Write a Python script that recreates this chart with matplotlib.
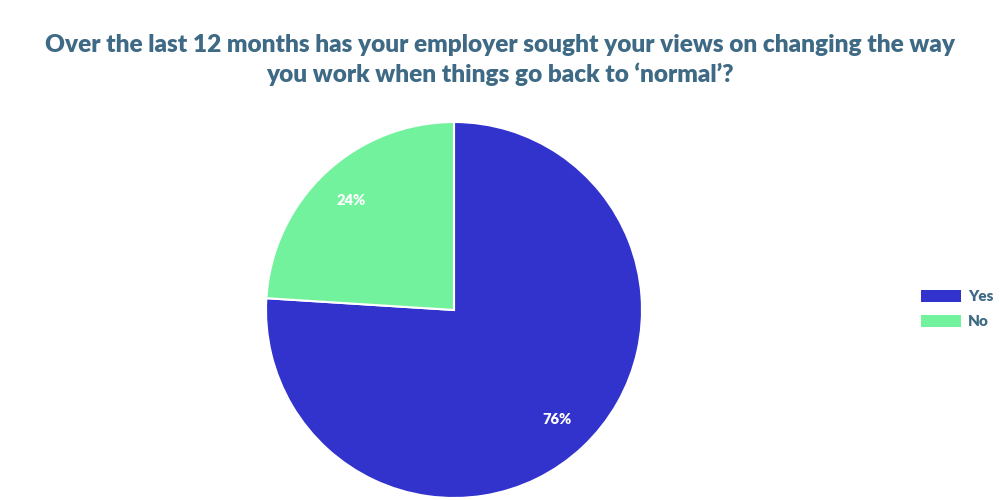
import matplotlib.pyplot as plt
from matplotlib.patches import Patch

labels = ["Yes", "No"]
shares = [76, 24]
colors = ["#3232cc", "#73f29e"]
title = "Over the last 12 months has your employer sought your views on changing the way\nyou work when things go back to \u2018normal\u2019?"

plt.rcParams['font.family'] = ['Lato', 'DejaVu Sans']

fig = plt.figure(figsize=(10, 5), dpi=100)
ax = fig.add_axes([0.266, 0.004, 0.376, 0.752])

wedges, _, autotexts = ax.pie(shares, colors=colors, startangle=90, counterclock=False,
                              autopct=lambda p: "%d%%" % round(p), pctdistance=0.8,
                              wedgeprops=dict(edgecolor="white", linewidth=1.5),
                              radius=1.0)
for t in autotexts:
    t.set_color("white")
    t.set_fontweight("heavy")
    t.set_fontsize(10.5)
ax.set_xlim(-1, 1)
ax.set_ylim(-1, 1)
ax.set_aspect("equal")

fig.text(0.5, 0.88, title, ha="center", va="center", fontsize=17.6, fontweight="heavy",
         color="#3e6a85", linespacing=1.3)

handles = [Patch(facecolor=c, edgecolor="none") for c in colors]
fig.legend(handles, labels, loc="center left", bbox_to_anchor=(0.921, 0.382), frameon=False,
           handlelength=2.6, handleheight=0.9, handletextpad=0.5, labelspacing=0.75,
           borderpad=0, borderaxespad=0,
           prop=dict(weight="heavy", size=11), labelcolor="#3e6a85")

fig.savefig("out.png", dpi=100)
